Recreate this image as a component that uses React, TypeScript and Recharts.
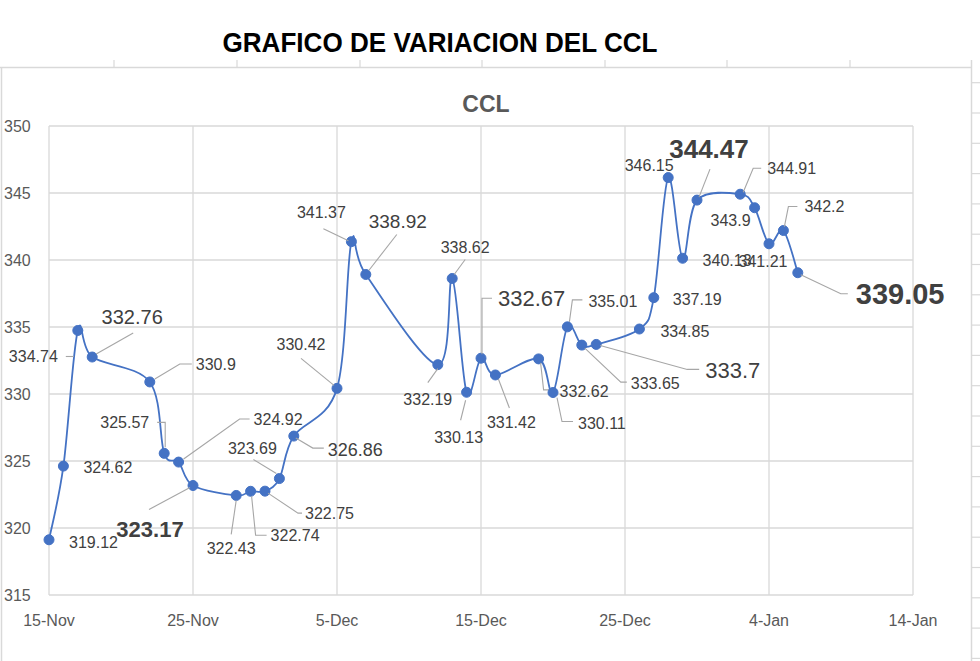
import React from 'react';
import { LineChart, Line, XAxis, YAxis, CartesianGrid } from 'recharts';

// ---- data ----
const dates = [
  '2022-11-15', '2022-11-16', '2022-11-17', '2022-11-18',
  '2022-11-22', '2022-11-23', '2022-11-24', '2022-11-25',
  '2022-11-28', '2022-11-29', '2022-11-30', '2022-12-01', '2022-12-02',
  '2022-12-05', '2022-12-06', '2022-12-07',
  '2022-12-12', '2022-12-13', '2022-12-14', '2022-12-15', '2022-12-16',
  '2022-12-19', '2022-12-20', '2022-12-21', '2022-12-22', '2022-12-23',
  '2022-12-26', '2022-12-27', '2022-12-28', '2022-12-29', '2022-12-30',
  '2023-01-02', '2023-01-03', '2023-01-04', '2023-01-05', '2023-01-06',
];
const ccl = [
  319.12, 324.62, 334.74, 332.76,
  330.9, 325.57, 324.92, 323.17,
  322.43, 322.74, 322.75, 323.69, 326.86,
  330.42, 341.37, 338.92,
  332.19, 338.62, 330.13, 332.67, 331.42,
  332.62, 330.11, 335.01, 333.65, 333.7,
  334.85, 337.19, 346.15, 340.13, 344.47,
  344.91, 343.9, 341.21, 342.2, 339.05,
];
const xTickDates = ['2022-11-15', '2022-11-25', '2022-12-05', '2022-12-15', '2022-12-25', '2023-01-04', '2023-01-14'];
const xTickLabels = ['15-Nov', '25-Nov', '5-Dec', '15-Dec', '25-Dec', '4-Jan', '14-Jan'];
const yTicks = [315, 320, 325, 330, 335, 340, 345, 350];

const mainTitle = 'GRAFICO DE VARIACION DEL CCL';
const chartTitle = 'CCL';

// ---- helpers ----
const DAY = 86400000;
const origin = Date.parse(xTickDates[0] + 'T00:00:00Z');
const toDay = (s: string) => Math.round((Date.parse(s + 'T00:00:00Z') - origin) / DAY);
const rows = dates.map((d, i) => ({ d: toDay(d), v: ccl[i] }));
const xTicks = xTickDates.map(toDay);

// ---- label styling (offsets from each point, in px) ----
type LS = { a: 'start' | 'middle' | 'end'; dx: number; dy: number; s: number; b?: boolean; l?: number[][] };
const labelStyles: LS[] = [
  { a: 'start', dx: 20, dy: 2, s: 16 },
  { a: 'start', dx: 20, dy: 1, s: 16 },
  { a: 'end', dx: -20, dy: 26, s: 16, l: [[-12, 26], [-4, 26]] },
  { a: 'middle', dx: 40, dy: -40, s: 20, l: [[41, -24], [4, -3]] },
  { a: 'start', dx: 46, dy: -18, s: 16, l: [[5, -3], [30, -18], [42, -18]] },
  { a: 'end', dx: -15, dy: -31, s: 16, l: [[-7, -31], [1, -31], [1, -6]] },
  { a: 'start', dx: 75, dy: -43, s: 16, l: [[5, -3], [61, -43], [71, -43]] },
  { a: 'middle', dx: -43, dy: 44, s: 22, b: true, l: [[-3, 2], [-44, 24]] },
  { a: 'middle', dx: -5, dy: 53, s: 16, l: [[0, 5], [-5, 39]] },
  { a: 'start', dx: 20, dy: 44, s: 16, l: [[1, 5], [5, 44], [16, 44]] },
  { a: 'start', dx: 40, dy: 22, s: 16, l: [[3, 2], [33, 22], [37, 22]] },
  { a: 'middle', dx: -27, dy: -30, s: 16, l: [[-26, -19], [-3, -5]] },
  { a: 'start', dx: 34, dy: 13, s: 18, l: [[2, 2], [19, 12], [30, 12]] },
  { a: 'middle', dx: -36, dy: -44, s: 16, l: [[-36, -30], [-3, -3]] },
  { a: 'middle', dx: -30, dy: -29, s: 16, l: [[-28, -13], [-3, -1]] },
  { a: 'middle', dx: 32, dy: -53, s: 19, l: [[31, -40], [3, -4]] },
  { a: 'middle', dx: -10, dy: 35, s: 16, l: [[-10, 18], [0, 4]] },
  { a: 'middle', dx: 13, dy: -31, s: 16, l: [[13, -19], [2, -4]] },
  { a: 'middle', dx: -8, dy: 45, s: 16, l: [[-6, 28], [-1, 8]] },
  { a: 'start', dx: 17, dy: -60, s: 22, l: [[1, -4], [1, -60], [11, -60]] },
  { a: 'middle', dx: 16, dy: 47, s: 16, l: [[14, 33], [3, 4]] },
  { a: 'start', dx: 21, dy: 32, s: 16, l: [[2, 4], [5, 31], [15, 31]] },
  { a: 'start', dx: 25, dy: 31, s: 16, l: [[4, 5], [9, 29], [20, 29]] },
  { a: 'start', dx: 21, dy: -26, s: 16, l: [[2, -5], [5, -27], [15, -27]] },
  { a: 'start', dx: 49, dy: 38, s: 16, l: [[3, 3], [39, 37], [45, 37]] },
  { a: 'start', dx: 109, dy: 26, s: 22, l: [[4, 1], [91, 25], [103, 25]] },
  { a: 'start', dx: 21, dy: 2, s: 16 },
  { a: 'start', dx: 19, dy: 2, s: 16 },
  { a: 'middle', dx: -19, dy: -12, s: 16 },
  { a: 'start', dx: 20, dy: 2, s: 16 },
  { a: 'middle', dx: 12, dy: -51, s: 26, b: true, l: [[13, -31], [2, -3]] },
  { a: 'start', dx: 27, dy: -26, s: 16, l: [[3, -2], [13, -26], [21, -26]] },
  { a: 'end', dx: -4, dy: 12, s: 16 },
  { a: 'middle', dx: -6, dy: 17, s: 16 },
  { a: 'start', dx: 21, dy: -24, s: 16, l: [[1, -4], [5, -24], [14, -24]] },
  { a: 'start', dx: 58, dy: 21, s: 29, b: true, l: [[3, 2], [43, 21], [50, 21]] },
];

const FONT = '"Liberation Sans", Arial, sans-serif';
const BLUE = '#4472C4';
const GRID = '#d9d9d9';

// Excel-like smoothing (Catmull-Rom through the points)
function smoothCurve(context: any) {
  let pts: number[][] = [];
  return {
    areaStart() {},
    areaEnd() {},
    lineStart() {
      pts = [];
    },
    point(x: number, y: number) {
      pts.push([+x, +y]);
    },
    lineEnd() {
      if (!pts.length) return;
      context.moveTo(pts[0][0], pts[0][1]);
      for (let i = 0; i < pts.length - 1; i++) {
        const p0 = pts[i - 1] || pts[i];
        const p1 = pts[i];
        const p2 = pts[i + 1];
        const p3 = pts[i + 2] || p2;
        context.bezierCurveTo(
          p1[0] + (p2[0] - p0[0]) / 6,
          p1[1] + (p2[1] - p0[1]) / 6,
          p2[0] - (p3[0] - p1[0]) / 6,
          p2[1] - (p3[1] - p1[1]) / 6,
          p2[0],
          p2[1]
        );
      }
    },
  };
}

const renderDot = (p: any) => {
  const { cx, cy, index, payload } = p;
  const cfg = labelStyles[index];
  const pts = cfg && cfg.l ? cfg.l.map(([a, b]) => `${cx + a},${cy + b}`).join(' ') : null;
  return (
    <g key={`dot-${index}`}>
      <circle cx={cx} cy={cy} r={5} fill={BLUE} stroke={BLUE} strokeWidth={1} />
      {pts && <polyline points={pts} fill="none" stroke="#a6a6a6" strokeWidth={1.1} />}
      {cfg && (
        <text
          x={cx + cfg.dx}
          y={cy + cfg.dy + cfg.s * 0.36}
          textAnchor={cfg.a}
          fontSize={cfg.s}
          fontWeight={cfg.b ? 700 : 400}
          fill="#404040"
          fontFamily={FONT}
        >
          {payload.v}
        </text>
      )}
    </g>
  );
};

const XTick = (p: any) => {
  const i = xTicks.indexOf(p.payload.value);
  return (
    <text x={p.x} y={626} textAnchor="middle" fontSize={16} fill="#595959" fontFamily={FONT}>
      {xTickLabels[i]}
    </text>
  );
};

const YTick = (p: any) => (
  <text x={4} y={p.y + 6} textAnchor="start" fontSize={16} fill="#595959" fontFamily={FONT}>
    {p.payload.value}
  </text>
);

const topTicks = [114, 237, 360, 482, 605, 727, 850];
const rightTicks = Array.from({ length: 20 }, (_, k) => 82.7 + k * 30.3).filter((y) => y < 661);

export default function App() {
  return (
    <div style={{ position: 'absolute', left: 0, top: 0, width: 980, height: 661, background: '#fff' }}>
      <svg width={980} height={661} style={{ position: 'absolute', left: 0, top: 0 }}>
        <line x1={0} y1={67.5} x2={972} y2={67.5} stroke={GRID} strokeWidth={1.5} />
        <line x1={1.5} y1={67.5} x2={1.5} y2={661} stroke={GRID} strokeWidth={1.5} />
        <line x1={971.5} y1={60} x2={971.5} y2={661} stroke={GRID} strokeWidth={1.5} />
        {topTicks.map((x) => (
          <line key={x} x1={x} y1={60} x2={x} y2={67} stroke={GRID} strokeWidth={1.2} />
        ))}
        {rightTicks.map((y) => (
          <line key={y} x1={972} y1={y} x2={980} y2={y} stroke={GRID} strokeWidth={1.2} />
        ))}
        <text
          x={440}
          y={52}
          textAnchor="middle"
          fontSize={28}
          fontWeight={700}
          fill="#000"
          fontFamily={FONT}
          textLength={435}
          lengthAdjust="spacingAndGlyphs"
        >
          {mainTitle}
        </text>
        <text x={486} y={112} textAnchor="middle" fontSize={23} fontWeight={700} fill="#595959" fontFamily={FONT}>
          {chartTitle}
        </text>
      </svg>
      <div style={{ position: 'absolute', left: 0, top: 0 }}>
        <LineChart width={980} height={661} data={rows} margin={{ top: 126, right: 67, bottom: 0, left: 0 }}>
          <CartesianGrid stroke={GRID} strokeWidth={1.3} />
          <XAxis
            type="number"
            dataKey="d"
            domain={[xTicks[0], xTicks[xTicks.length - 1]]}
            ticks={xTicks}
            interval={0}
            height={66}
            axisLine={false}
            tickLine={false}
            tick={XTick}
          />
          <YAxis
            type="number"
            domain={[yTicks[0], yTicks[yTicks.length - 1]]}
            ticks={yTicks}
            interval={0}
            width={49}
            axisLine={false}
            tickLine={false}
            tick={YTick}
          />
          <Line
            type={smoothCurve as any}
            dataKey="v"
            stroke={BLUE}
            strokeWidth={1.8}
            dot={renderDot}
            activeDot={false}
            isAnimationActive={false}
          />
        </LineChart>
      </div>
    </div>
  );
}
